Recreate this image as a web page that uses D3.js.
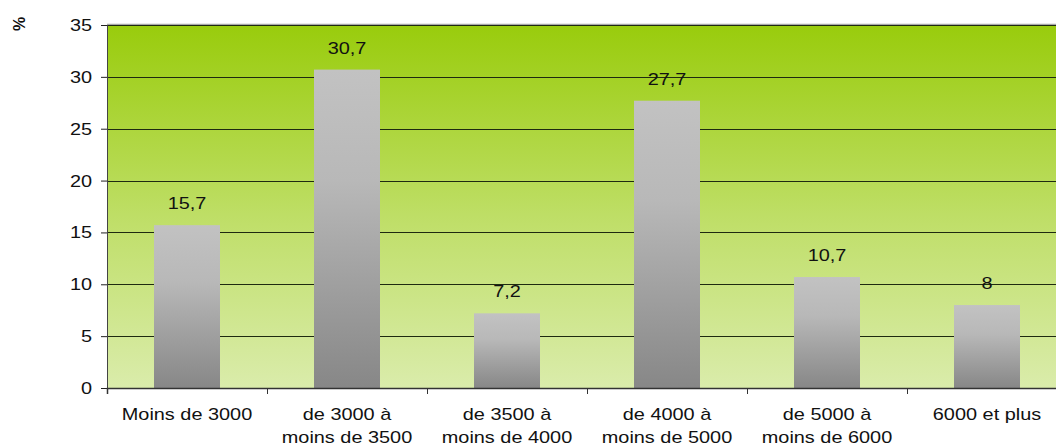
<!DOCTYPE html>
<html>
<head>
<meta charset="utf-8">
<script src="https://cdn.jsdelivr.net/npm/d3@7"></script>
<style>
  body { margin: 0; background: #fff; }
  svg { display: block; font-family: "Liberation Sans", Arial, sans-serif; }
</style>
</head>
<body>
<svg id="chart" width="1056" height="447"></svg>
<script>
// Income brackets and share of households (%)
const categories = [
  ["Moins de 3000"],
  ["de 3000 à", "moins de 3500"],
  ["de 3500 à", "moins de 4000"],
  ["de 4000 à", "moins de 5000"],
  ["de 5000 à", "moins de 6000"],
  ["6000 et plus"]
];
const values = [15.7, 30.7, 7.2, 27.7, 10.7, 8];
const valueLabels = ["15,7", "30,7", "7,2", "27,7", "10,7", "8"];
const yTicks = [0, 5, 10, 15, 20, 25, 30, 35];

const svg = d3.select("#chart");
const plotLeft = 107, plotTop = 25, plotBottom = 388, plotRight = 1067;
const FONT = 17, STRETCH = 1.17;

const x = d3.scaleBand().domain(d3.range(categories.length)).range([plotLeft, plotRight]).paddingInner(0).paddingOuter(0);
const y = d3.scaleLinear().domain([0, 35]).range([plotBottom, plotTop]);

const defs = svg.append("defs");
const bg = defs.append("linearGradient").attr("id", "bg").attr("x1", 0).attr("y1", 0).attr("x2", 0).attr("y2", 1);
bg.append("stop").attr("offset", "0%").attr("stop-color", "#99cc0c");
bg.append("stop").attr("offset", "55%").attr("stop-color", "#c0df6a");
bg.append("stop").attr("offset", "100%").attr("stop-color", "#daecab");

const bar = defs.append("linearGradient").attr("id", "bar").attr("x1", 0).attr("y1", 0).attr("x2", 0).attr("y2", 1);
bar.append("stop").attr("offset", "0%").attr("stop-color", "#c2c2c2");
bar.append("stop").attr("offset", "35%").attr("stop-color", "#b8b8b8");
bar.append("stop").attr("offset", "100%").attr("stop-color", "#878787");

// places a horizontally widened text at (px, py)
function wideText(g, px, py, anchor) {
  return g.append("text")
    .attr("transform", `translate(${px},${py}) scale(${STRETCH},1)`)
    .attr("text-anchor", anchor)
    .attr("font-size", FONT)
    .attr("fill", "#111");
}

// plot background
svg.append("rect").attr("x", plotLeft).attr("y", plotTop).attr("width", plotRight - plotLeft).attr("height", plotBottom - plotTop)
  .attr("fill", "url(#bg)");
svg.append("line").attr("x1", plotLeft).attr("x2", plotRight).attr("y1", plotTop - 0.5).attr("y2", plotTop - 0.5)
  .attr("stroke", "#a8a8a8").attr("stroke-width", 1.5);

// gridlines
svg.append("g").selectAll("line").data(yTicks.filter(d => d > 0)).join("line")
  .attr("x1", plotLeft).attr("x2", plotRight)
  .attr("y1", d => Math.round(y(d)) + 0.5).attr("y2", d => Math.round(y(d)) + 0.5)
  .attr("stroke", "#1e2a10").attr("stroke-width", 1.2);

// bars
const barW = 66;
svg.append("g").selectAll("rect").data(values).join("rect")
  .attr("x", (d, i) => x(i) + x.bandwidth() / 2 - barW / 2)
  .attr("y", d => y(d))
  .attr("width", barW)
  .attr("height", d => y(0) - y(d))
  .attr("fill", "url(#bar)");

// value labels
const valG = svg.append("g");
values.forEach((v, i) => {
  wideText(valG, x(i) + x.bandwidth() / 2, y(v) - 16, "middle").text(valueLabels[i]);
});

// y axis (labels drawn separately to allow widening)
const yAxis = d3.axisLeft(y).tickValues(yTicks).tickSize(6).tickFormat("");
const gy = svg.append("g").attr("transform", `translate(${plotLeft},0)`).call(yAxis);
gy.select(".domain").attr("stroke", "#444");
gy.selectAll(".tick line").attr("stroke", "#222");
const yLab = svg.append("g");
yTicks.forEach(t => {
  wideText(yLab, plotLeft - 15, y(t) + 6, "end").text(t);
});

// x axis
const xAxis = d3.axisBottom(d3.scaleLinear().domain([0, categories.length]).range([plotLeft, plotRight]))
  .tickValues(d3.range(0, categories.length + 1)).tickSize(6).tickFormat("");
const gx = svg.append("g").attr("transform", `translate(0,${plotBottom})`).call(xAxis);
gx.select(".domain").attr("stroke", "#333").attr("stroke-width", 1.5);
gx.selectAll(".tick line").attr("stroke", "#333");

// category labels
const catG = svg.append("g");
categories.forEach((lines, i) => {
  const t = wideText(catG, x(i) + x.bandwidth() / 2, 420, "middle");
  lines.forEach((ln, j) => {
    t.append("tspan").attr("x", 0).attr("y", j * 23).text(ln);
  });
});

// unit label
svg.append("text").attr("transform", "translate(25,24) rotate(-90)")
  .attr("text-anchor", "middle").attr("font-size", 16).attr("font-weight", "bold").attr("fill", "#111")
  .text("%");
</script>
</body>
</html>
